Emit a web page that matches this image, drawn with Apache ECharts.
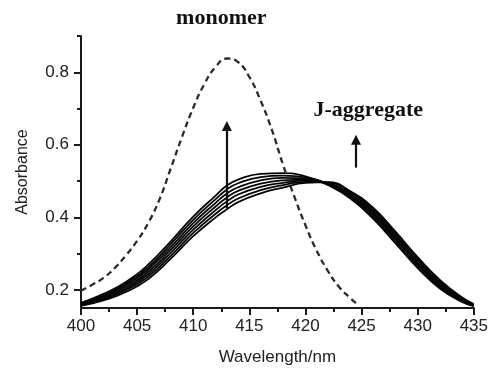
<!DOCTYPE html>
<html>
<head>
<meta charset="utf-8">
<script src="https://cdn.jsdelivr.net/npm/echarts@6/dist/echarts.min.js"></script>
<style>
  html, body { margin: 0; padding: 0; background: #fff; }
  #chart { width: 491px; height: 371px; }
</style>
</head>
<body>
<div id="chart"></div>
<script>
  // wavelength grid of the J-aggregate spectra
  const wavelengths = [400, 402, 404, 406, 408, 410, 412, 413, 414, 416, 418, 420, 422, 424, 426, 428, 430, 432, 434, 435];

  const aggCurve1 = [0.156, 0.171, 0.194, 0.230, 0.286, 0.348, 0.400, 0.422, 0.442, 0.466, 0.482, 0.495, 0.497, 0.472, 0.427, 0.361, 0.290, 0.227, 0.178, 0.161];
  const aggCurve2 = [0.157, 0.174, 0.199, 0.237, 0.294, 0.357, 0.410, 0.433, 0.452, 0.475, 0.489, 0.498, 0.496, 0.469, 0.422, 0.356, 0.285, 0.223, 0.176, 0.160];
  const aggCurve3 = [0.159, 0.177, 0.203, 0.243, 0.302, 0.366, 0.420, 0.444, 0.463, 0.484, 0.495, 0.501, 0.494, 0.465, 0.417, 0.350, 0.280, 0.219, 0.174, 0.159];
  const aggCurve4 = [0.160, 0.180, 0.208, 0.250, 0.310, 0.375, 0.430, 0.455, 0.473, 0.493, 0.502, 0.504, 0.493, 0.462, 0.412, 0.345, 0.275, 0.215, 0.172, 0.158];
  const aggCurve5 = [0.161, 0.183, 0.213, 0.257, 0.318, 0.384, 0.440, 0.466, 0.483, 0.502, 0.509, 0.507, 0.492, 0.459, 0.407, 0.340, 0.270, 0.211, 0.170, 0.157];
  const aggCurve6 = [0.163, 0.186, 0.217, 0.263, 0.326, 0.393, 0.450, 0.477, 0.494, 0.511, 0.515, 0.510, 0.490, 0.455, 0.402, 0.334, 0.265, 0.207, 0.168, 0.156];
  const aggCurve7 = [0.164, 0.189, 0.222, 0.270, 0.334, 0.402, 0.460, 0.488, 0.504, 0.520, 0.522, 0.513, 0.489, 0.452, 0.397, 0.329, 0.260, 0.203, 0.166, 0.155];
  const aggCurves = [aggCurve1, aggCurve2, aggCurve3, aggCurve4, aggCurve5, aggCurve6, aggCurve7];

  // monomer (dashed)
  const monomerWl = [400, 401, 402, 403, 404, 405, 406, 407, 408, 409, 410, 411, 412, 413, 414, 415, 416, 417, 418, 419, 420, 421, 422, 423, 424, 424.5];
  const monomerAbs = [0.198, 0.214, 0.233, 0.260, 0.295, 0.335, 0.385, 0.450, 0.535, 0.622, 0.702, 0.768, 0.815, 0.838, 0.828, 0.787, 0.722, 0.642, 0.545, 0.458, 0.378, 0.308, 0.252, 0.208, 0.177, 0.163];

  // arrows
  const arrowX = [413, 424.5];
  const arrowFrom = [0.422, 0.537];
  const arrowTo = [0.652, 0.614];

  // axes
  const xTickLabels = [400, 405, 410, 415, 420, 425, 430, 435];
  const yTickLabels = [0.2, 0.4, 0.6, 0.8];
  const yMinorTicks = [0.3, 0.5, 0.7, 0.9];

  // annotations: [text, x, y] in data units
  const annotations = [
    ['monomer', 412.5, 0.949],
    ['J-aggregate', 425.6, 0.695]
  ];

  const axisColor = '#1a1a1a';
  const labelFont = {color: '#222', fontSize: 17, fontFamily: 'Liberation Sans'};

  const chart = echarts.init(document.getElementById('chart'));

  const series = aggCurves.map(curve => ({
    type: 'line',
    smooth: true,
    showSymbol: false,
    silent: true,
    data: wavelengths.map((w, i) => [w, curve[i]]),
    lineStyle: {color: '#050505', width: 1.8}
  }));

  series.push({
    type: 'line',
    smooth: true,
    showSymbol: false,
    silent: true,
    data: monomerWl.map((w, i) => [w, monomerAbs[i]]),
    lineStyle: {color: '#2a2a2a', width: 2.3, type: [6, 4]},
    markLine: {
      silent: true,
      symbol: ['none', 'triangle'],
      symbolSize: 10,
      label: {show: false},
      lineStyle: {color: '#111', width: 2.2, type: 'solid'},
      data: arrowX.map((x, i) => [{coord: [x, arrowFrom[i]]}, {coord: [x, arrowTo[i]]}])
    }
  });

  chart.setOption({
    animation: false,
    grid: {left: 81, right: 16, top: 36, bottom: 59},
    xAxis: {
      type: 'value',
      min: 400,
      max: 435,
      interval: 5,
      name: 'Wavelength/nm',
      nameLocation: 'middle',
      nameGap: 41,
      nameTextStyle: labelFont,
      axisLine: {lineStyle: {color: axisColor, width: 2}},
      axisTick: {length: 7, lineStyle: {color: axisColor, width: 2}},
      minorTick: {show: true, splitNumber: 2, length: 4, lineStyle: {color: axisColor, width: 2}},
      axisLabel: Object.assign({margin: 10, customValues: xTickLabels}, labelFont),
      splitLine: {show: false}
    },
    yAxis: [{
      type: 'value',
      min: 0.15,
      max: 0.9,
      name: 'Absorbance',
      nameLocation: 'middle',
      nameGap: 50,
      nameRotate: 90,
      nameTextStyle: {color: '#222', fontSize: 16, fontFamily: 'Liberation Sans'},
      axisLine: {show: true, lineStyle: {color: axisColor, width: 2}},
      axisTick: {show: true, length: 7, customValues: yTickLabels, lineStyle: {color: axisColor, width: 2}},
      axisLabel: Object.assign({margin: 12, customValues: yTickLabels, formatter: v => v.toFixed(1)}, labelFont),
      splitLine: {show: false}
    }, {
      type: 'value',
      position: 'left',
      min: 0.15,
      max: 0.9,
      axisLine: {show: false},
      axisTick: {show: true, length: 4, customValues: yMinorTicks, lineStyle: {color: axisColor, width: 2}},
      axisLabel: {show: false},
      splitLine: {show: false}
    }],
    series: series
  });

  // place the bold text notes from data coordinates
  chart.setOption({
    graphic: annotations.map(a => {
      const p = chart.convertToPixel({gridIndex: 0}, [a[1], a[2]]);
      return {
        type: 'text',
        x: p[0],
        y: p[1],
        style: {
          text: a[0],
          fill: '#111',
          font: 'bold 22px "Liberation Serif"',
          align: 'center',
          verticalAlign: 'middle'
        }
      };
    })
  });
</script>
</body>
</html>
